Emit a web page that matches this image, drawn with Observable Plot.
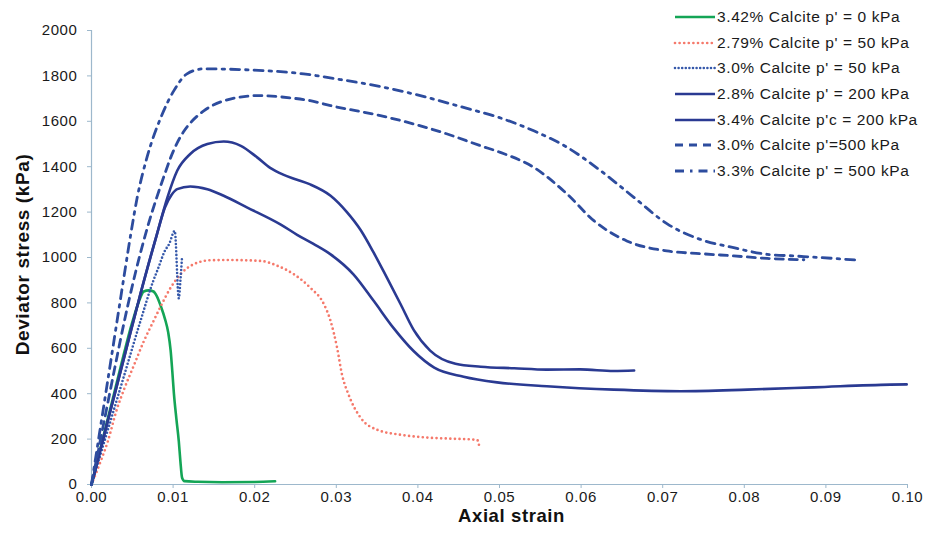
<!DOCTYPE html>
<html>
<head>
<meta charset="utf-8">
<script src="https://cdn.jsdelivr.net/npm/d3@7"></script>
<script src="https://cdn.jsdelivr.net/npm/@observablehq/plot@0.6"></script>
<style>
  html, body { margin: 0; padding: 0; background: #fff; }
  #wrap { position: relative; width: 925px; height: 534px; overflow: hidden; font-family: "Liberation Sans", Arial, sans-serif; }
  #chart svg text { letter-spacing: 0.6px; }
  #legend { position: absolute; left: 672px; top: 4px; }
  .row { display: flex; align-items: center; height: 25.7px; white-space: nowrap; font-size: 15.5px; letter-spacing: 0.6px; color: #1a1a1a; }
  .row svg { flex: none; margin-right: 1px; }
</style>
</head>
<body>
<div id="wrap"><div id="chart"></div><div id="legend"></div></div>
<script>
// [axial strain, deviator stress kPa]
const c342_p0 = [[0,0],[0.001,145],[0.002,290],[0.003,435],[0.004,580],[0.005,715],[0.0058,805],[0.0064,850],[0.007,855],[0.0076,850],[0.008,830],[0.0085,785],[0.009,730],[0.0094,670],[0.0097,590],[0.0099,500],[0.0101,400],[0.0104,290],[0.0107,190],[0.0109,100],[0.0111,30],[0.0114,15],[0.013,12],[0.016,10],[0.02,11],[0.0225,14]];
const c279_p50 = [[0,0],[0.0011,100],[0.002,190],[0.0031,330],[0.004,420],[0.0052,525],[0.0064,630],[0.0076,720],[0.0085,786],[0.0097,867],[0.0109,926],[0.0125,970],[0.0146,988],[0.0166,989],[0.0207,985],[0.0228,963],[0.0248,926],[0.0268,867],[0.0285,793],[0.0293,720],[0.0301,602],[0.0307,484],[0.0315,396],[0.033,293],[0.035,241],[0.0379,219],[0.041,207],[0.044,202],[0.0472,197],[0.0474,190],[0.0475,170]];
const c30_p50 = [[0,0],[0.002,240],[0.004,480],[0.006,720],[0.0076,900],[0.0082,955],[0.009,1030],[0.0095,1058],[0.0102,1117],[0.0107,820],[0.0109,900],[0.0111,1005]];
const c28_p200 = [[0,0],[0.002,280],[0.004,560],[0.006,840],[0.008,1100],[0.009,1220],[0.0098,1275],[0.0105,1301],[0.0121,1313],[0.0142,1301],[0.0162,1272],[0.0191,1220],[0.0232,1145],[0.0252,1100],[0.0272,1060],[0.0293,1014],[0.0321,926],[0.0346,808],[0.037,690],[0.0395,587],[0.042,515],[0.0456,475],[0.0497,450],[0.0558,433],[0.064,418],[0.0722,411],[0.0804,418],[0.0885,428],[0.0979,440],[0.0999,441]];
const c34_p200 = [[0,0],[0.002,280],[0.004,560],[0.006,840],[0.008,1100],[0.0093,1264],[0.0105,1382],[0.0121,1456],[0.0142,1500],[0.0162,1511],[0.0183,1492],[0.0203,1441],[0.0219,1395],[0.0235,1365],[0.025,1345],[0.0268,1322],[0.0293,1272],[0.0313,1200],[0.033,1120],[0.0346,1020],[0.0362,911],[0.0379,793],[0.0395,680],[0.0415,590],[0.0446,532],[0.0477,519],[0.0518,512],[0.0558,506],[0.0599,507],[0.064,500],[0.0665,502]];
const c30_p500 = [[0,0],[0.001,180],[0.002,360],[0.003,540],[0.004,715],[0.005,875],[0.006,1020],[0.007,1150],[0.008,1265],[0.009,1370],[0.0097,1440],[0.0105,1505],[0.0113,1555],[0.0123,1600],[0.0138,1647],[0.017,1698],[0.0203,1713],[0.0244,1703],[0.0268,1691],[0.0293,1669],[0.0354,1625],[0.0395,1588],[0.0436,1544],[0.0477,1492],[0.0501,1463],[0.0542,1397],[0.0583,1279],[0.0616,1161],[0.0656,1073],[0.0705,1029],[0.0746,1017],[0.0787,1007],[0.0828,996],[0.0873,990]];
const c33_p500 = [[0,0],[0.001,230],[0.002,460],[0.003,690],[0.004,920],[0.0048,1100],[0.0056,1264],[0.0068,1441],[0.0085,1617],[0.0101,1735],[0.0117,1809],[0.0137,1831],[0.0195,1826],[0.026,1809],[0.0305,1784],[0.0354,1753],[0.0403,1713],[0.0452,1665],[0.0505,1610],[0.0542,1558],[0.0583,1485],[0.0624,1382],[0.0665,1264],[0.0706,1147],[0.0746,1080],[0.0787,1043],[0.0828,1014],[0.086,1007],[0.0909,996],[0.094,988]];

const seriesNames = ["3.42% Calcite p' = 0 kPa","2.79% Calcite p' = 50 kPa","3.0% Calcite p' = 50 kPa","2.8% Calcite p' = 200 kPa","3.4% Calcite p'c = 200 kPa","3.0% Calcite p'=500 kPa","3.3% Calcite p' = 500 kPa"];
const xTicks = [0,0.01,0.02,0.03,0.04,0.05,0.06,0.07,0.08,0.09,0.10];
const yTicks = [0,200,400,600,800,1000,1200,1400,1600,1800,2000];

const navy = "#2a3a92";
const blue = "#2d4c9e";
const styles = [
  {stroke:"#14a556", strokeWidth:2.6},
  {stroke:"#f5796b", strokeWidth:2.7, strokeDasharray:"0 4.6", strokeLinecap:"round"},
  {stroke:"#3558aa", strokeWidth:2.6, strokeDasharray:"0 3.6", strokeLinecap:"round"},
  {stroke:navy, strokeWidth:2.6},
  {stroke:navy, strokeWidth:2.6},
  {stroke:blue, strokeWidth:2.8, strokeDasharray:"8 6"},
  {stroke:blue, strokeWidth:2.8, strokeDasharray:"9 6 2.5 6"}
];
const data = [c342_p0, c279_p50, c30_p50, c28_p200, c34_p200, c30_p500, c33_p500];

const axisColor = "#9db8cc";
const font = "\"Liberation Sans\", Arial, sans-serif";

const chart = Plot.plot({
  width: 925,
  height: 534,
  marginLeft: 91,
  marginRight: 18,
  marginTop: 30,
  marginBottom: 50,
  style: {fontFamily: font, fontSize: "15px", color: "#1a1a1a", background: "transparent"},
  x: {domain: [0, 0.1], ticks: xTicks, tickFormat: d3.format(".2f")},
  y: {domain: [0, 2000], ticks: yTicks, tickFormat: d => String(d)},
  marks: [
    Plot.axisX({ticks: xTicks, tickFormat: d3.format(".2f"), tickSize: 4, tickPadding: 3, stroke: axisColor, label: null, fontSize: 15}),
    Plot.axisY({ticks: yTicks, tickFormat: d => String(d), tickSize: 4, tickPadding: 10, stroke: axisColor, label: null, fontSize: 15}),
    Plot.ruleX([0], {stroke: axisColor, strokeWidth: 1.2}),
    Plot.ruleY([0], {stroke: axisColor, strokeWidth: 1.2}),
    ...data.map((d, i) => Plot.line(d, {x: p => p[0], y: p => p[1], curve: "monotone-x", ...styles[i]})),
    Plot.text(["Axial strain"], {frameAnchor: "bottom", dx: 12, dy: 37, fontWeight: "bold", fontSize: 18.5, fill: "#111"}),
    Plot.text(["Deviator stress (kPa)"], {frameAnchor: "left", textAnchor: "middle", dx: -69, dy: -3, rotate: -90, fontWeight: "bold", fontSize: 19, fill: "#111"})
  ]
});
document.getElementById("chart").appendChild(chart);

// legend
const legend = d3.select("#legend");
seriesNames.forEach((name, i) => {
  const row = legend.append("div").attr("class", "row");
  const sv = row.append("svg").attr("width", 44).attr("height", 10);
  const s = styles[i];
  sv.append("line").attr("x1", 3).attr("x2", 43).attr("y1", 5).attr("y2", 5)
    .attr("stroke", s.stroke).attr("stroke-width", s.strokeWidth)
    .attr("stroke-dasharray", s.strokeDasharray || null)
    .attr("stroke-linecap", s.strokeLinecap || "butt");
  row.append("span").text(name);
});
</script>
</body>
</html>
